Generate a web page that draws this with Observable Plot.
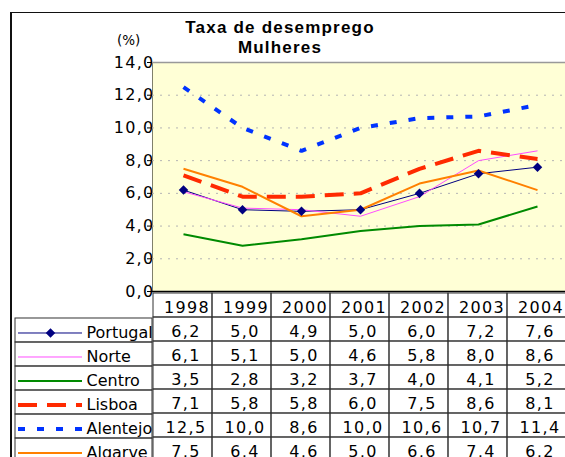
<!DOCTYPE html>
<html><head><meta charset="utf-8">
<script src="https://cdn.jsdelivr.net/npm/d3@7"></script>
<script src="https://cdn.jsdelivr.net/npm/@observablehq/plot@0.6"></script>
<style>
html,body{margin:0;padding:0;background:#fff;overflow:hidden;width:565px;height:457px;}
#wrap{position:relative;width:565px;height:457px;overflow:hidden;background:#fff;}
.abs{position:absolute;}
#frame{left:10px;top:12px;width:600px;height:500px;border-left:2px solid #111;border-top:1.5px solid #111;}
#title{left:160px;width:240px;top:18px;text-align:center;font:bold 17px "Liberation Sans",Arial,sans-serif;letter-spacing:1.2px;line-height:20px;color:#000;}
#unit{left:117px;top:32px;font:13.5px "DejaVu Sans",sans-serif;line-height:16px;color:#000;}
svg{overflow:visible;}
</style></head>
<body>
<div id="wrap">
  <div id="frame" class="abs"></div>
  <div id="title" class="abs">Taxa de desemprego<br>Mulheres</div>
  <div id="unit" class="abs">(%)</div>
  <div id="chart" class="abs" style="left:0;top:0;"></div>
  <div id="table" class="abs" style="left:0;top:291px;"></div>
  <div id="legend" class="abs" style="left:15px;top:316px;"></div>
</div>
<script>
// ---- data ----
const years = [1998, 1999, 2000, 2001, 2002, 2003, 2004];
const seriesNames = ["Portugal", "Norte", "Centro", "Lisboa", "Alentejo", "Algarve"];
const portugal = [6.2, 5.0, 4.9, 5.0, 6.0, 7.2, 7.6];
const norte    = [6.1, 5.1, 5.0, 4.6, 5.8, 8.0, 8.6];
const centro   = [3.5, 2.8, 3.2, 3.7, 4.0, 4.1, 5.2];
const lisboa   = [7.1, 5.8, 5.8, 6.0, 7.5, 8.6, 8.1];
const alentejo = [12.5, 10.0, 8.6, 10.0, 10.6, 10.7, 11.4];
const algarve  = [7.5, 6.4, 4.6, 5.0, 6.6, 7.4, 6.2];
const yTicks = [0, 2, 4, 6, 8, 10, 12, 14];

// ---- styles ----
const seriesValues = [portugal, norte, centro, lisboa, alentejo, algarve];
const styles = {
  Portugal: {stroke: "#000080", strokeWidth: 1},
  Norte:    {stroke: "#ff4dff", strokeWidth: 1},
  Centro:   {stroke: "#008a00", strokeWidth: 2},
  Lisboa:   {stroke: "#ff2a00", strokeWidth: 4, strokeDasharray: "19,10"},
  Alentejo: {stroke: "#0033ff", strokeWidth: 4, strokeDasharray: "7,12"},
  Algarve:  {stroke: "#ff8000", strokeWidth: 2}
};
const markerColor = "#000080";
const fmt = v => v.toFixed(1).replace(".", ",");

const rows = seriesNames.flatMap((name, i) =>
  years.map((year, j) => ({name, year, value: seriesValues[i][j]})));

const rowH = 24.55;
const xRange = [152, 567];
const baseStyle = {background: "transparent", color: "#000", fontFamily: "'DejaVu Sans', sans-serif",
  fontSize: "16px", overflow: "visible", maxWidth: "none"};

// ---- chart ----
const chart = Plot.plot({
  width: 565, height: 293,
  marginLeft: 152, marginRight: 0, marginTop: 62, marginBottom: 2,
  style: {...baseStyle, letterSpacing: "1.3px"},
  x: {type: "point", domain: years, range: xRange, padding: 0.5, axis: null},
  y: {domain: [0, 14], ticks: yTicks, tickFormat: fmt, tickSize: 5, tickPadding: -7, line: true, label: null},
  marks: [
    Plot.frame({fill: "#ffffd6", stroke: "none"}),
    Plot.ruleY(yTicks.filter(v => v > 0 && v < 14), {stroke: "#b4b4b4", strokeDasharray: "2,6"}),
    Plot.ruleY([14], {stroke: "#999", strokeWidth: 1.5}),
    ...seriesNames.map(n => Plot.line(rows.filter(r => r.name === n),
      {x: "year", y: "value", ...styles[n], strokeLinecap: "butt", strokeLinejoin: "miter"})),
    Plot.dot(rows.filter(r => r.name === "Portugal"),
      {x: "year", y: "value", symbol: "diamond2", r: 4.3, fill: markerColor, stroke: "none"}),
    Plot.ruleY([0], {stroke: "#000", strokeWidth: 1.5})
  ]
});
document.getElementById("chart").append(chart);

// ---- table ----
const table = Plot.plot({
  width: 565, height: 7 * rowH,
  marginLeft: 152, marginRight: 0, marginTop: 0, marginBottom: 0,
  style: {...baseStyle, letterSpacing: "1.3px"},
  x: {type: "band", domain: years, range: xRange, padding: 0, axis: null},
  y: {type: "band", domain: ["header", ...seriesNames], range: [0, 7 * rowH], padding: 0, axis: null},
  marks: [
    Plot.cell(rows, {x: "year", y: "name", stroke: "#333", fill: "none", inset: 0}),
    Plot.cell(years, {x: d => d, y: () => "header", stroke: "#333", fill: "none", inset: 0}),
    Plot.text(years, {x: d => d, y: () => "header", text: d => String(d), dx: 4, dy: 2, fill: "#000"}),
    Plot.text(rows, {x: "year", y: "name", text: d => fmt(d.value), dx: 3, dy: 2, fill: "#000"})
  ]
});
document.getElementById("table").append(table);

// ---- legend column ----
const legend = Plot.plot({
  width: 137, height: 6 * rowH,
  marginLeft: 0, marginRight: 0, marginTop: 0, marginBottom: 0,
  style: {...baseStyle},
  y: {type: "band", domain: seriesNames, range: [0, 6 * rowH], padding: 0, axis: null},
  marks: [
    Plot.cell(seriesNames, {y: d => d, stroke: "#333", fill: "none", inset: 0}),
    ...seriesNames.map(n => Plot.ruleY([n], {y: d => d, dy: 2.5, insetLeft: 3, insetRight: 70,
      ...styles[n], strokeLinecap: "butt"})),
    Plot.dot(["Portugal"], {y: d => d, frameAnchor: "left", dx: 35, dy: 2.5, symbol: "diamond2", r: 4.3,
      fill: markerColor, stroke: "none"}),
    Plot.text(seriesNames, {y: d => d, text: d => d, frameAnchor: "left", dx: 71, dy: 2,
      textAnchor: "start", fill: "#000"})
  ]
});
document.getElementById("legend").append(legend);
</script>
</body></html>
